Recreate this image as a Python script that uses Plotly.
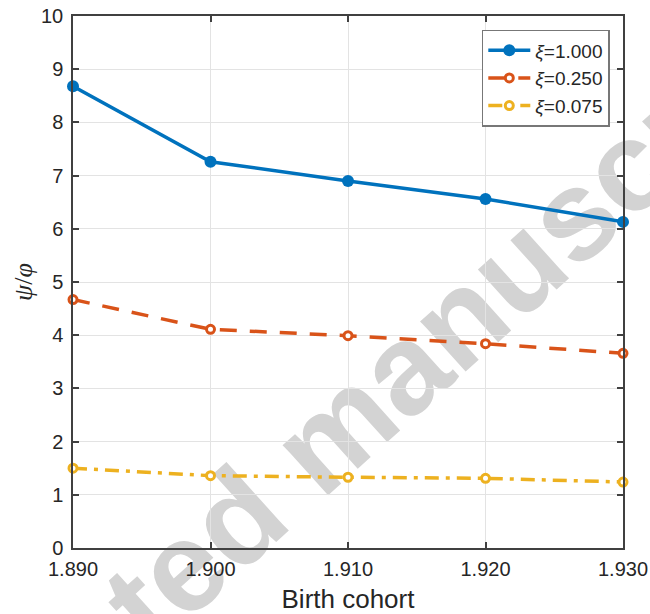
import plotly.graph_objects as go

cohorts = [1890, 1900, 1910, 1920, 1930]
tick_labels = ["1.890", "1.900", "1.910", "1.920", "1.930"]
xi_1000 = [8.68, 7.26, 6.90, 6.56, 6.13]
xi_0250 = [4.67, 4.11, 3.99, 3.84, 3.66]
xi_0075 = [1.50, 1.36, 1.33, 1.31, 1.24]
series_names = ["<i>ξ</i>=1.000", "<i>ξ</i>=0.250", "<i>ξ</i>=0.075"]
y_ticks = list(range(0, 11))

BLUE = "#0072BD"
RED = "#D95319"
YEL = "#EDB120"
AX = "#262626"
FONT = "Liberation Sans, Arial, sans-serif"

fig = go.Figure()
fig.add_trace(go.Scatter(
    x=cohorts, y=xi_1000, name=series_names[0], mode="lines+markers",
    line=dict(color=BLUE, width=3.5), cliponaxis=False,
    marker=dict(symbol="circle", size=12, color=BLUE, line=dict(width=0)),
))
fig.add_trace(go.Scatter(
    x=cohorts, y=xi_0250, name=series_names[1], mode="lines+markers",
    line=dict(color=RED, width=3.5, dash="17px,13px"), cliponaxis=False,
    marker=dict(symbol="circle", size=8, color="white", line=dict(color=RED, width=3)),
))
fig.add_trace(go.Scatter(
    x=cohorts, y=xi_0075, name=series_names[2], mode="lines+markers",
    line=dict(color=YEL, width=3.5, dash="14px,7px,4px,7px"), cliponaxis=False,
    marker=dict(symbol="circle", size=8, color="white", line=dict(color=YEL, width=3)),
))

# watermark (behind the data)
fig.add_shape(
    type="rect", xref="paper", yref="paper",
    x0=0.435, x1=0.437, y0=0.215, y1=0.217,
    line=dict(width=0), fillcolor="rgba(0,0,0,0)", layer="between",
    label=dict(text="<b>Accepted manuscript</b>", textposition="middle center",
               textangle=-42,
               font=dict(family="Liberation Sans, Arial, sans-serif", size=128,
                         color="#d3d3d3")),
)

fig.update_layout(
    width=650, height=614,
    margin=dict(l=73, r=27, t=16, b=66, autoexpand=False),
    paper_bgcolor="white", plot_bgcolor="white",
    font=dict(family=FONT, color=AX, size=20),
    showlegend=True,
    legend=dict(
        x=0.976, y=0.974, xanchor="right", yanchor="top",
        bgcolor="white", bordercolor="#777777", borderwidth=1.5,
        font=dict(family=FONT, size=19, color=AX),
        tracegroupgap=0, itemwidth=42,
    ),
)
fig.update_xaxes(
    range=[1890, 1930], tickmode="array", tickvals=cohorts, ticktext=tick_labels,
    showline=True, linecolor="#404040", linewidth=1.5, mirror="ticks",
    ticks="inside", ticklen=6, tickcolor="#404040", tickwidth=1.5,
    showgrid=True, gridcolor="#e3e3e3", gridwidth=1, zeroline=False,
    tickfont=dict(size=20, color=AX), ticklabelstandoff=2, automargin=False,
    title=dict(text="Birth cohort", font=dict(size=26, color=AX), standoff=12),
)
fig.update_yaxes(
    range=[0, 10], tickmode="array", tickvals=y_ticks,
    showline=True, linecolor="#404040", linewidth=1.5, mirror="ticks",
    ticks="inside", ticklen=6, tickcolor="#404040", tickwidth=1.5,
    showgrid=True, gridcolor="#e3e3e3", gridwidth=1, zeroline=False,
    tickfont=dict(size=20, color=AX), ticklabelstandoff=4, automargin=False,
    title=dict(text="<i>ψ</i>/<i>φ</i>",
               font=dict(family="Liberation Serif, serif", size=26, color=AX),
               standoff=1),
)

fig.write_html("out.html", config={"displayModeBar": False},
               post_script="document.body.style.margin='0';")
